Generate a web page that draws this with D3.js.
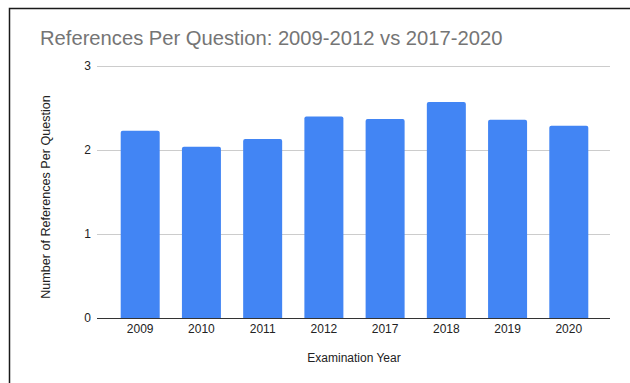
<!DOCTYPE html>
<html>
  <head>
    <meta charset="utf-8">
    <title>References Per Question</title>
    <script src="https://d3js.org/d3.v7.min.js"></script>
    <style>
      body { margin: 0; background: #fff; }
      svg { display: block; font-family: "Liberation Sans", Arial, sans-serif; }
    </style>
  </head>
  <body>
    <svg id="chart" width="630" height="383"></svg>
    <script>
      // data
      const years = ["2009", "2010", "2011", "2012", "2017", "2018", "2019", "2020"];
      const refsPerQuestion = [2.23, 2.04, 2.13, 2.40, 2.37, 2.57, 2.36, 2.29];
      const yTicks = [0, 1, 2, 3];

      const svg = d3.select("#chart");

      // frame (screenshot border on top and left)
      svg.append("path")
        .attr("d", "M9.5,383V8.5H630")
        .attr("fill", "none")
        .attr("stroke", "#1a1a1a")
        .attr("stroke-width", 1.5);

      const plot = { left: 97, right: 610, top: 66, bottom: 318 };

      const x = d3.scaleBand()
        .domain(years)
        .range([120.7, 588.3])
        .paddingInner(0.363)
        .paddingOuter(0);

      const y = d3.scaleLinear()
        .domain([0, 3])
        .range([plot.bottom, plot.top]);

      // gridlines
      svg.append("g")
        .selectAll("line")
        .data(yTicks.filter(function(d) { return d > 0; }))
        .join("line")
          .attr("x1", plot.left)
          .attr("x2", plot.right)
          .attr("y1", function(d) { return Math.round(y(d)) + 0.5; })
          .attr("y2", function(d) { return Math.round(y(d)) + 0.5; })
          .attr("stroke", "#cccccc")
          .attr("stroke-width", 1);

      // y labels
      svg.append("g")
        .selectAll("text")
        .data(yTicks)
        .join("text")
          .attr("x", 91)
          .attr("y", function(d) { return y(d) + 4; })
          .attr("text-anchor", "end")
          .attr("font-size", 12)
          .attr("fill", "#222")
          .text(function(d) { return d; });

      // bars, rounded at the top only
      svg.append("g")
        .selectAll("path")
        .data(refsPerQuestion)
        .join("path")
          .attr("fill", "#4285f4")
          .attr("d", function(d, i) {
            const x0 = x(years[i]), w = x.bandwidth(), top = y(d), r = 2;
            return "M" + x0 + "," + y(0) +
              "V" + (top + r) +
              "Q" + x0 + "," + top + " " + (x0 + r) + "," + top +
              "H" + (x0 + w - r) +
              "Q" + (x0 + w) + "," + top + " " + (x0 + w) + "," + (top + r) +
              "V" + y(0) + "Z";
          });

      // baseline
      svg.append("line")
        .attr("x1", plot.left)
        .attr("x2", plot.right)
        .attr("y1", y(0) + 0.5)
        .attr("y2", y(0) + 0.5)
        .attr("stroke", "#333")
        .attr("stroke-width", 1);

      // x labels
      svg.append("g")
        .selectAll("text")
        .data(years)
        .join("text")
          .attr("x", function(d) { return x(d) + x.bandwidth() / 2; })
          .attr("y", 333)
          .attr("text-anchor", "middle")
          .attr("font-size", 12)
          .attr("fill", "#222")
          .text(function(d) { return d; });

      // titles
      svg.append("text")
        .attr("x", 40)
        .attr("y", 45)
        .attr("font-size", 20.2)
        .attr("fill", "#757575")
        .text("References Per Question: 2009-2012 vs 2017-2020");

      svg.append("text")
        .attr("x", 354)
        .attr("y", 362)
        .attr("text-anchor", "middle")
        .attr("font-size", 12)
        .attr("fill", "#222")
        .text("Examination Year");

      svg.append("text")
        .attr("transform", "translate(50,197) rotate(-90)")
        .attr("text-anchor", "middle")
        .attr("font-size", 12.6)
        .attr("fill", "#222")
        .text("Number of References Per Question");
    </script>
  </body>
</html>
